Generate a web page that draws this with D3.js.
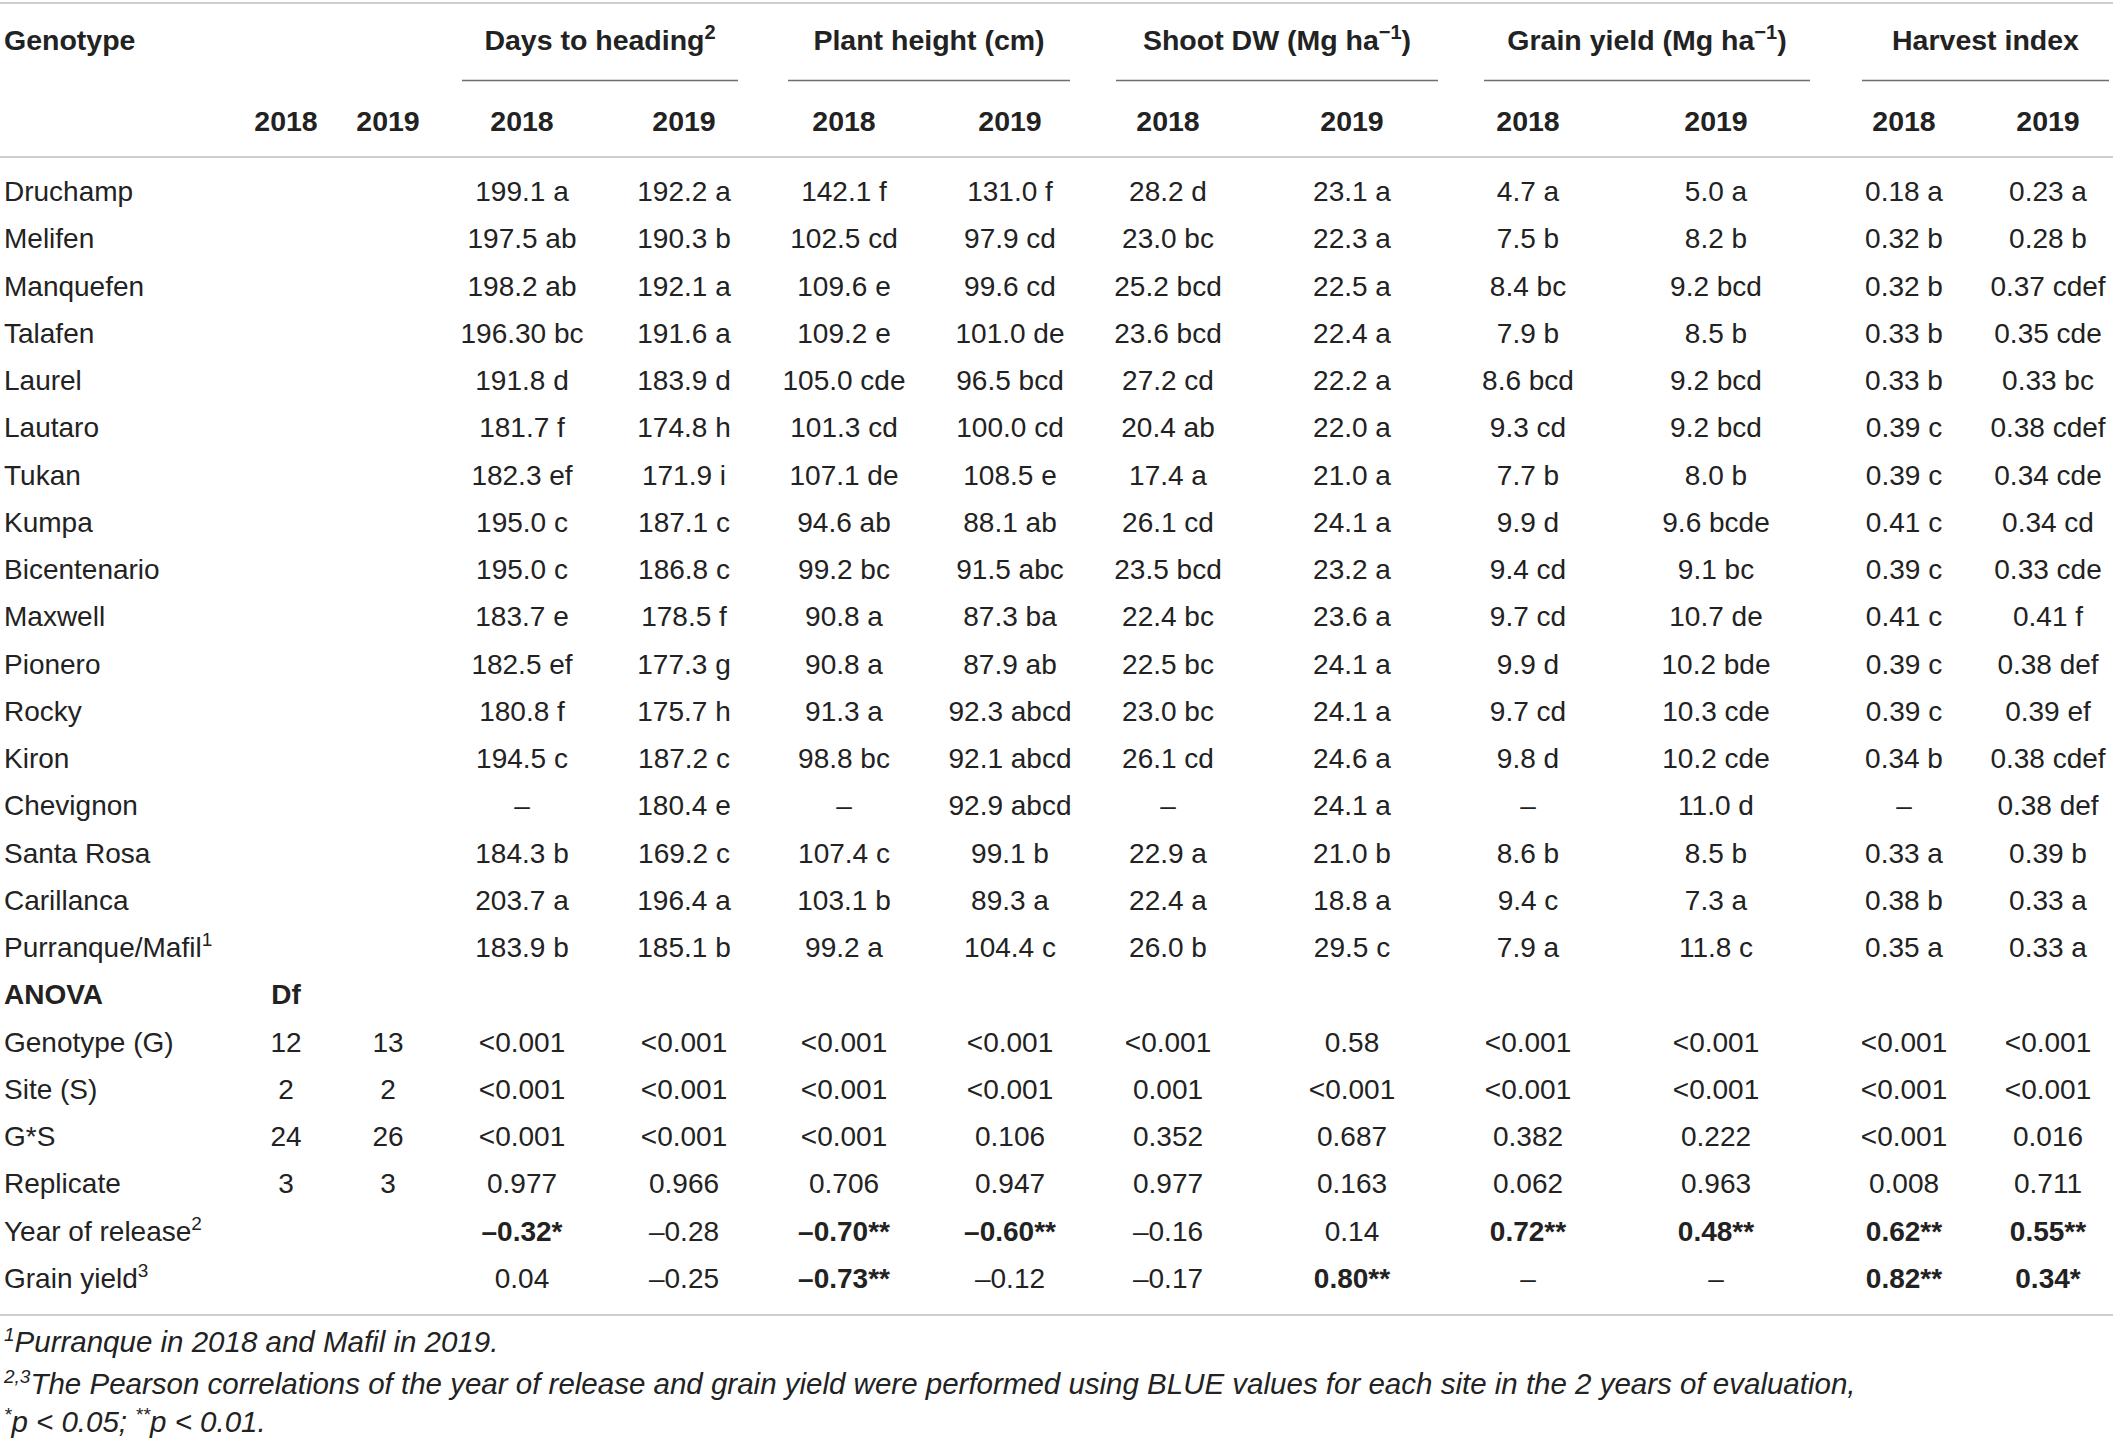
<!DOCTYPE html>
<html>
<head>
<meta charset="utf-8">
<script src="https://cdn.jsdelivr.net/npm/d3@7"></script>
<style>
	body { margin: 0; background: #fff; }
	svg { display: block; font-family: "Liberation Sans", Arial, Helvetica, sans-serif; }
</style>
</head>
<body>
<svg id="table" width="2113" height="1442"></svg>
<script>
// {..} marks a superscript
const genotypes = ["Druchamp", "Melifen", "Manquefen", "Talafen", "Laurel", "Lautaro", "Tukan", "Kumpa",
	"Bicentenario", "Maxwell", "Pionero", "Rocky", "Kiron", "Chevignon", "Santa Rosa", "Carillanca", "Purranque/Mafil{1}"];
const daysHeading2018 = ["199.1 a", "197.5 ab", "198.2 ab", "196.30 bc", "191.8 d", "181.7 f", "182.3 ef", "195.0 c",
	"195.0 c", "183.7 e", "182.5 ef", "180.8 f", "194.5 c", "–", "184.3 b", "203.7 a", "183.9 b"];
const daysHeading2019 = ["192.2 a", "190.3 b", "192.1 a", "191.6 a", "183.9 d", "174.8 h", "171.9 i", "187.1 c",
	"186.8 c", "178.5 f", "177.3 g", "175.7 h", "187.2 c", "180.4 e", "169.2 c", "196.4 a", "185.1 b"];
const plantHeight2018 = ["142.1 f", "102.5 cd", "109.6 e", "109.2 e", "105.0 cde", "101.3 cd", "107.1 de", "94.6 ab",
	"99.2 bc", "90.8 a", "90.8 a", "91.3 a", "98.8 bc", "–", "107.4 c", "103.1 b", "99.2 a"];
const plantHeight2019 = ["131.0 f", "97.9 cd", "99.6 cd", "101.0 de", "96.5 bcd", "100.0 cd", "108.5 e", "88.1 ab",
	"91.5 abc", "87.3 ba", "87.9 ab", "92.3 abcd", "92.1 abcd", "92.9 abcd", "99.1 b", "89.3 a", "104.4 c"];
const shootDW2018 = ["28.2 d", "23.0 bc", "25.2 bcd", "23.6 bcd", "27.2 cd", "20.4 ab", "17.4 a", "26.1 cd",
	"23.5 bcd", "22.4 bc", "22.5 bc", "23.0 bc", "26.1 cd", "–", "22.9 a", "22.4 a", "26.0 b"];
const shootDW2019 = ["23.1 a", "22.3 a", "22.5 a", "22.4 a", "22.2 a", "22.0 a", "21.0 a", "24.1 a",
	"23.2 a", "23.6 a", "24.1 a", "24.1 a", "24.6 a", "24.1 a", "21.0 b", "18.8 a", "29.5 c"];
const grainYield2018 = ["4.7 a", "7.5 b", "8.4 bc", "7.9 b", "8.6 bcd", "9.3 cd", "7.7 b", "9.9 d",
	"9.4 cd", "9.7 cd", "9.9 d", "9.7 cd", "9.8 d", "–", "8.6 b", "9.4 c", "7.9 a"];
const grainYield2019 = ["5.0 a", "8.2 b", "9.2 bcd", "8.5 b", "9.2 bcd", "9.2 bcd", "8.0 b", "9.6 bcde",
	"9.1 bc", "10.7 de", "10.2 bde", "10.3 cde", "10.2 cde", "11.0 d", "8.5 b", "7.3 a", "11.8 c"];
const harvestIndex2018 = ["0.18 a", "0.32 b", "0.32 b", "0.33 b", "0.33 b", "0.39 c", "0.39 c", "0.41 c",
	"0.39 c", "0.41 c", "0.39 c", "0.39 c", "0.34 b", "–", "0.33 a", "0.38 b", "0.35 a"];
const harvestIndex2019 = ["0.23 a", "0.28 b", "0.37 cdef", "0.35 cde", "0.33 bc", "0.38 cdef", "0.34 cde", "0.34 cd",
	"0.33 cde", "0.41 f", "0.38 def", "0.39 ef", "0.38 cdef", "0.38 def", "0.39 b", "0.33 a", "0.33 a"];

const anovaTerms = ["Genotype (G)", "Site (S)", "G*S", "Replicate"];
const df2018 = ["12", "2", "24", "3"];
const df2019 = ["13", "2", "26", "3"];
// p-values per term, columns: days 18/19, height 18/19, shoot 18/19, grain 18/19, HI 18/19
const pGenotype = ["<0.001", "<0.001", "<0.001", "<0.001", "<0.001", "0.58", "<0.001", "<0.001", "<0.001", "<0.001"];
const pSite = ["<0.001", "<0.001", "<0.001", "<0.001", "0.001", "<0.001", "<0.001", "<0.001", "<0.001", "<0.001"];
const pGxS = ["<0.001", "<0.001", "<0.001", "0.106", "0.352", "0.687", "0.382", "0.222", "<0.001", "0.016"];
const pReplicate = ["0.977", "0.966", "0.706", "0.947", "0.977", "0.163", "0.062", "0.963", "0.008", "0.711"];
const corrLabels = ["Year of release{2}", "Grain yield{3}"];
const corrYearRelease = ["–0.32*", "–0.28", "–0.70**", "–0.60**", "–0.16", "0.14", "0.72**", "0.48**", "0.62**", "0.55**"];
const corrGrainYield = ["0.04", "–0.25", "–0.73**", "–0.12", "–0.17", "0.80**", "–", "–", "0.82**", "0.34*"];

const traits = ["Days to heading{2}", "Plant height (cm)", "Shoot DW (Mg ha{−1})", "Grain yield (Mg ha{−1})", "Harvest index"];
const years = ["2018", "2019"];
const footnotes = [
	"{1}Purranque in 2018 and Mafil in 2019.",
	"{2,3}The Pearson correlations of the year of release and grain yield were performed using BLUE values for each site in the 2 years of evaluation,",
	"{*}p < 0.05; {**}p < 0.01."
];

const svg = d3.select("svg#table");
const width = +svg.attr("width");
const ink = "#222";

const colKeys = ["df18", "df19", "dth18", "dth19", "ph18", "ph19", "sdw18", "sdw19", "gy18", "gy19", "hi18", "hi19"];
const colX = d3.scaleOrdinal(colKeys, [286, 388, 522, 684, 844, 1010, 1168, 1352, 1528, 1716, 1904, 2048]);
const groupX = d3.scaleOrdinal(traits, [[462, 738], [788, 1070], [1116, 1438], [1484, 1810], [1862, 2109]]);

// body rows
let rows = genotypes.map((g, i) => ({
	label: g, bold: false,
	cells: [null, null, daysHeading2018[i], daysHeading2019[i], plantHeight2018[i], plantHeight2019[i],
		shootDW2018[i], shootDW2019[i], grainYield2018[i], grainYield2019[i], harvestIndex2018[i], harvestIndex2019[i]]
}));
rows.push({ label: "ANOVA", bold: true, cells: ["Df", null, null, null, null, null, null, null, null, null, null, null] });
[pGenotype, pSite, pGxS, pReplicate].forEach((p, i) => {
	rows.push({ label: anovaTerms[i], bold: false, cells: [df2018[i], df2019[i]].concat(p) });
});
[corrYearRelease, corrGrainYield].forEach((c, i) => {
	rows.push({ label: corrLabels[i], bold: false, cells: [null, null].concat(c) });
});

const rowY = d3.scalePoint(d3.range(rows.length), [191, 1278]);

// writes a string with {sup} parts as tspans
function rich(text, str, supSize) {
	const parts = str.split(/(\{[^}]*\})/).filter((p) => p !== "");
	let raised = false;
	parts.forEach((p) => {
		if (p.startsWith("{")) {
			text.append("tspan").attr("dy", -11).attr("font-size", supSize).text(p.slice(1, -1));
			raised = true;
		} else {
			text.append("tspan").attr("dy", raised ? 11 : 0).text(p);
			raised = false;
		}
	});
}

// rules
const rules = svg.append("g").attr("id", "rules");
rules.selectAll("line.rule")
	.data([3, 157, 1315])
	.join("line")
	.attr("class", "rule")
	.attr("x1", 0).attr("x2", width)
	.attr("y1", (d) => d).attr("y2", (d) => d)
	.attr("stroke", "#cfcfcf").attr("stroke-width", 2);
rules.selectAll("line.group")
	.data(traits)
	.join("line")
	.attr("class", "group")
	.attr("x1", (d) => groupX(d)[0]).attr("x2", (d) => groupX(d)[1])
	.attr("y1", 80.5).attr("y2", 80.5)
	.attr("stroke", "#6e6e6e").attr("stroke-width", 1.3);

// header
const header = svg.append("g").attr("id", "header").attr("fill", ink).attr("font-weight", "bold").attr("font-size", 28.5);
header.append("text").attr("x", 4).attr("y", 50).text("Genotype");
header.selectAll("text.trait")
	.data(traits)
	.join("text")
	.attr("class", "trait")
	.attr("text-anchor", "middle")
	.attr("x", (d) => (groupX(d)[0] + groupX(d)[1]) / 2)
	.attr("y", 50)
	.each(function (d) { rich(d3.select(this), d, 20); });
header.selectAll("text.year")
	.data(colKeys)
	.join("text")
	.attr("class", "year")
	.attr("text-anchor", "middle")
	.attr("x", (d) => colX(d))
	.attr("y", 131)
	.text((d, i) => years[i % 2]);

// body
const body = svg.append("g").attr("id", "body").attr("fill", ink).attr("font-size", 28);
const rowG = body.selectAll("g.row")
	.data(rows)
	.join("g")
	.attr("class", "row")
	.attr("transform", (d, i) => `translate(0, ${rowY(i) + 10})`);
rowG.append("text")
	.attr("x", 4)
	.attr("font-weight", (d) => (d.bold ? "bold" : null))
	.each(function (d) { rich(d3.select(this), d.label, 19); });
rowG.selectAll("text.cell")
	.data((d) => d.cells.map((v, j) => ({ v, key: colKeys[j], bold: d.bold || (v && v.includes("*")) })).filter((c) => c.v))
	.join("text")
	.attr("class", "cell")
	.attr("text-anchor", "middle")
	.attr("x", (d) => colX(d.key))
	.attr("font-weight", (d) => (d.bold ? "bold" : null))
	.text((d) => d.v);

// footnotes
svg.append("g").attr("id", "notes")
	.attr("fill", ink).attr("font-size", 29.5).attr("font-style", "italic")
	.selectAll("text")
	.data(footnotes)
	.join("text")
	.attr("x", 4)
	.attr("y", (d, i) => [1352, 1394, 1432][i])
	.each(function (d) { rich(d3.select(this), d, 19); });
</script>
</body>
</html>
